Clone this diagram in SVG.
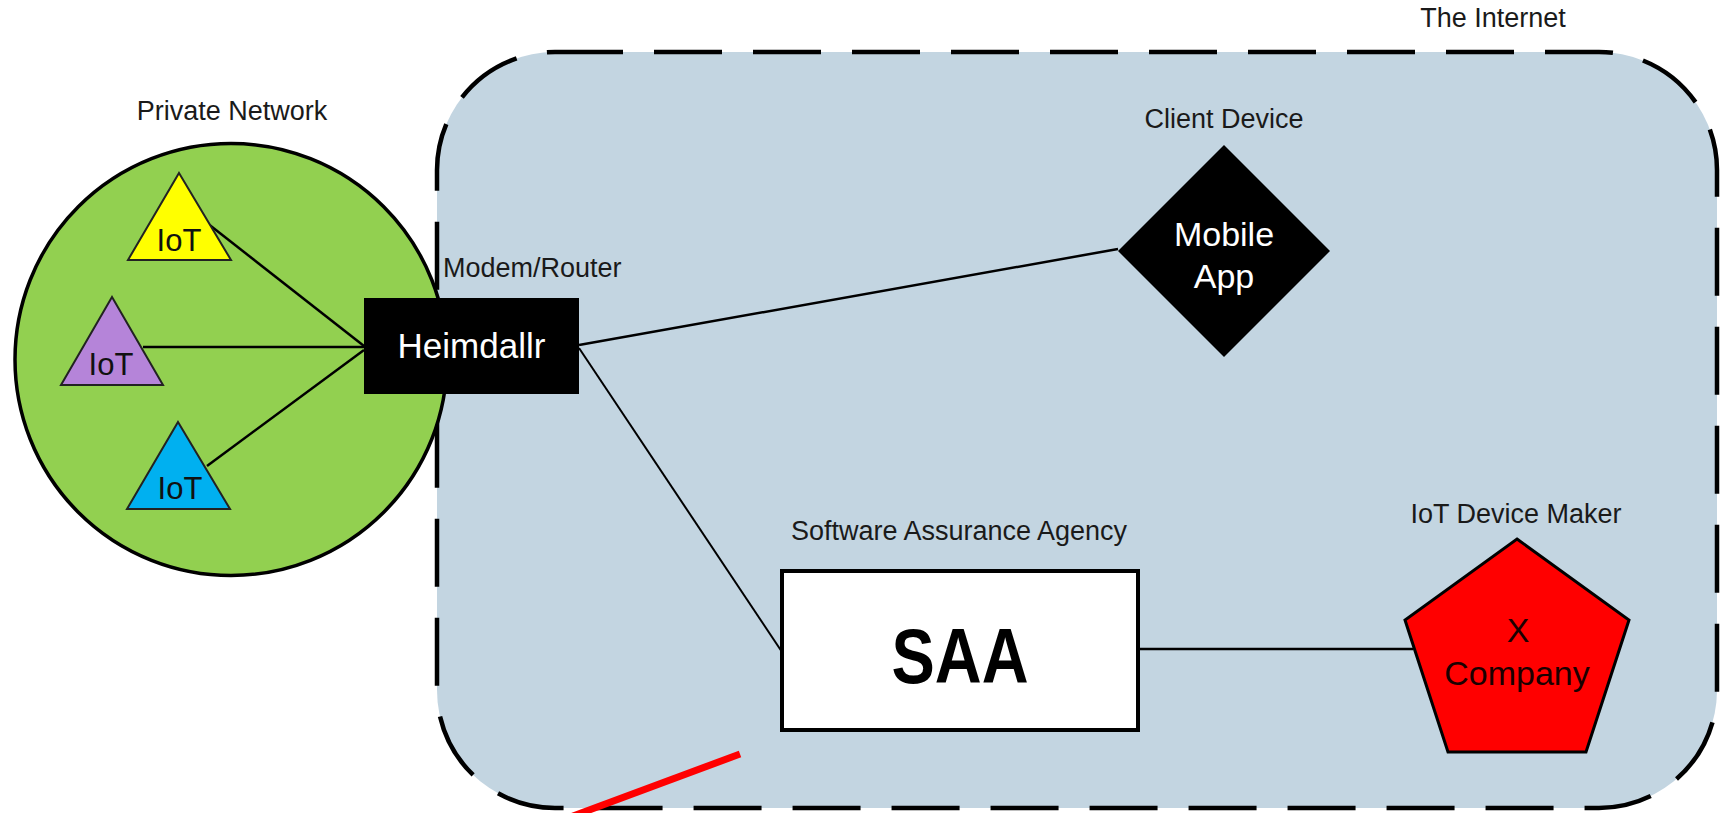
<svg xmlns="http://www.w3.org/2000/svg" width="1720" height="813" viewBox="0 0 1720 813">
<style>
.lbl{font-family:"Liberation Sans",Arial,sans-serif;font-size:27px;fill:#1a1a1a;text-anchor:middle}
.iot{font-family:"Liberation Sans",Arial,sans-serif;font-size:31px;fill:#111;text-anchor:middle}
.wt{font-family:"Liberation Sans",Arial,sans-serif;fill:#fff;text-anchor:middle}
.tri{stroke:#222;stroke-width:2}
.conn line{stroke:#000;stroke-width:2.5;fill:none}
</style>
<rect width="1720" height="813" fill="#fff"/>
<g id="internet">
<rect x="437" y="52" width="1280" height="756" rx="118" ry="118" fill="#c3d5e1" stroke="#000" stroke-width="4.5" stroke-dasharray="68 31"/>
<text class="lbl" x="1493" y="27">The Internet</text>
</g>
<g id="private-network">
<circle cx="231" cy="359.5" r="216" fill="#92d050" stroke="#000" stroke-width="3.5"/>
<text class="lbl" x="232" y="120">Private Network</text>
</g>
<g id="connectors" class="conn">
<line x1="207" y1="223" x2="364" y2="346"/>
<line x1="143" y1="347" x2="364" y2="347"/>
<line x1="207" y1="466" x2="364" y2="350"/>
<line x1="579" y1="345" x2="1118" y2="249"/>
<line x1="579" y1="348" x2="782" y2="652" style="stroke-width:2"/>
<line x1="1138" y1="649" x2="1413" y2="649"/>
</g>
<g id="iot-yellow">
<polygon class="tri" points="179,173 231,260 128,260" fill="#ffff00"/>
<text class="iot" x="179" y="251">IoT</text>
</g>
<g id="iot-purple">
<polygon class="tri" points="112,297 163,385 61,385" fill="#b584d9"/>
<text class="iot" x="111" y="375">IoT</text>
</g>
<g id="iot-blue">
<polygon class="tri" points="178,422 230,509 127,509" fill="#00b0f0"/>
<text class="iot" x="180" y="499">IoT</text>
</g>
<g id="heimdallr">
<rect x="364" y="298" width="215" height="96" fill="#000"/>
<text class="wt" x="471.5" y="358" font-size="35">Heimdallr</text>
<text class="lbl" x="443" y="277" style="text-anchor:start">Modem/Router</text>
</g>
<g id="mobile-app">
<polygon points="1224,145 1330,251 1224,357 1118,251" fill="#000"/>
<text class="wt" x="1224" y="246" font-size="34">Mobile</text>
<text class="wt" x="1224" y="288" font-size="34">App</text>
<text class="lbl" x="1224" y="128">Client Device</text>
</g>
<g id="saa">
<rect x="782" y="571" width="356" height="159" fill="#fff" stroke="#000" stroke-width="4"/>
<text x="960" y="683" font-family="Liberation Sans,Arial,sans-serif" font-weight="bold" font-size="78" fill="#000" text-anchor="middle" textLength="137" lengthAdjust="spacingAndGlyphs">SAA</text>
<text class="lbl" x="959" y="540">Software Assurance Agency</text>
</g>
<g id="x-company">
<polygon points="1517,539 1629,620 1586,752 1448,752 1405,620" fill="#ff0000" stroke="#000" stroke-width="3"/>
<text x="1518" y="642" font-family="Liberation Sans,Arial,sans-serif" font-size="34" fill="#1a0000" text-anchor="middle">X</text>
<text x="1517" y="685" font-family="Liberation Sans,Arial,sans-serif" font-size="34" fill="#1a0000" text-anchor="middle">Company</text>
<text class="lbl" x="1516" y="523">IoT Device Maker</text>
</g>
<g id="annotation">
<line x1="740" y1="754" x2="565" y2="819" stroke="#ff0000" stroke-width="7"/>
</g>
</svg>
